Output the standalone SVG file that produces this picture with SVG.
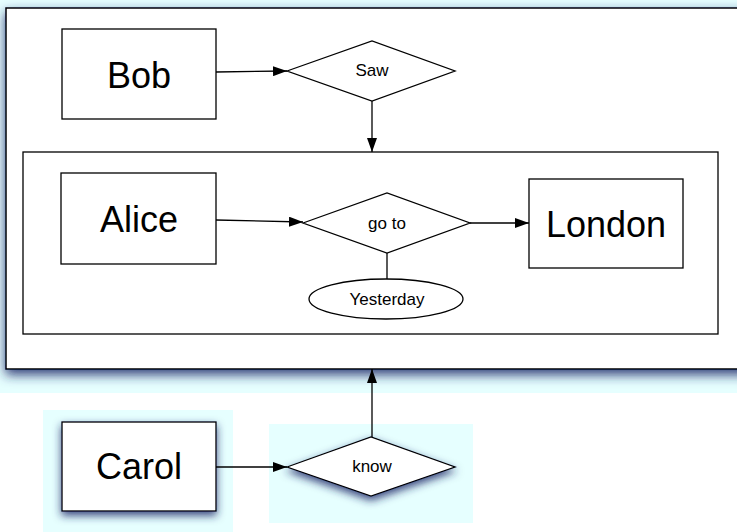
<svg xmlns="http://www.w3.org/2000/svg" width="737" height="532" viewBox="0 0 737 532">
<style>
.box{fill:#fff;stroke:#000;stroke-width:1.3}
.big{font-family:"Liberation Sans",Arial,sans-serif;font-size:36px;fill:#000;text-anchor:middle}
.small{font-family:"Liberation Sans",Arial,sans-serif;font-size:17px;fill:#000;text-anchor:middle}
.edge{fill:none;stroke:#000;stroke-width:1.3}
.bg{fill:#e6ffff}
</style>
<defs>
<marker id="arr" viewBox="0 0 14 10" refX="14" refY="5" markerWidth="14" markerHeight="10" markerUnits="userSpaceOnUse" orient="auto">
<path d="M0,0 L14,5 L0,10 Z" fill="#000"/>
</marker>
<filter id="shadow" x="-10%" y="-10%" width="120%" height="130%">
<feDropShadow dx="0" dy="5" stdDeviation="6" flood-color="#1a2a6a" flood-opacity="0.9"/>
</filter>
<filter id="shadowS" x="-20%" y="-20%" width="140%" height="150%">
<feDropShadow dx="0" dy="4" stdDeviation="4" flood-color="#1a2a6a" flood-opacity="0.85"/>
</filter>
</defs>
<rect class="bg" x="0" y="0" width="737" height="393"/>
<rect class="bg" x="43" y="410" width="190" height="122"/>
<rect class="bg" x="269" y="424" width="204" height="99"/>
<g id="outer">
<rect x="6" y="8" width="745" height="361" fill="#fff" stroke="#000" stroke-width="1.5" filter="url(#shadow)"/>
</g>
<g id="inner">
<rect class="box" x="23" y="152" width="695" height="182"/>
</g>
<g id="bob">
<rect class="box" x="62" y="29" width="154" height="90"/>
<text class="big" x="139" y="88">Bob</text>
</g>
<g id="saw">
<polygon class="box" points="287,71 372,41 455,71 372,101"/>
<text class="small" x="372" y="76">Saw</text>
</g>
<g id="alice">
<rect class="box" x="61" y="173" width="155" height="91"/>
<text class="big" x="139" y="232">Alice</text>
</g>
<g id="goto">
<polygon class="box" points="303,223 387,193 470,223 387,253"/>
<text class="small" x="387" y="229">go to</text>
</g>
<g id="london">
<rect class="box" x="529" y="179" width="154" height="89"/>
<text class="big" x="606" y="237">London</text>
</g>
<g id="yesterday">
<ellipse class="box" cx="386" cy="299" rx="77" ry="20"/>
<text class="small" x="387" y="305">Yesterday</text>
</g>
<g id="carol">
<rect class="box" x="62" y="422" width="154" height="89" filter="url(#shadowS)"/>
<text class="big" x="139" y="479">Carol</text>
</g>
<g id="know">
<polygon class="box" points="287,467 371,437 455,467 371,496" filter="url(#shadowS)"/>
<text class="small" x="372" y="472">know</text>
</g>
<g id="connectors">
<path class="edge" d="M216,72 L287,71" marker-end="url(#arr)"/>
<path class="edge" d="M372,101 L372,152" marker-end="url(#arr)"/>
<path class="edge" d="M216,220 L303,222" marker-end="url(#arr)"/>
<path class="edge" d="M470,223 L529,223" marker-end="url(#arr)"/>
<path class="edge" d="M387,253 L387,279"/>
<path class="edge" d="M216,467 L287,467" marker-end="url(#arr)"/>
<path class="edge" d="M372,437 L372,369" marker-end="url(#arr)"/>
</g>
</svg>
